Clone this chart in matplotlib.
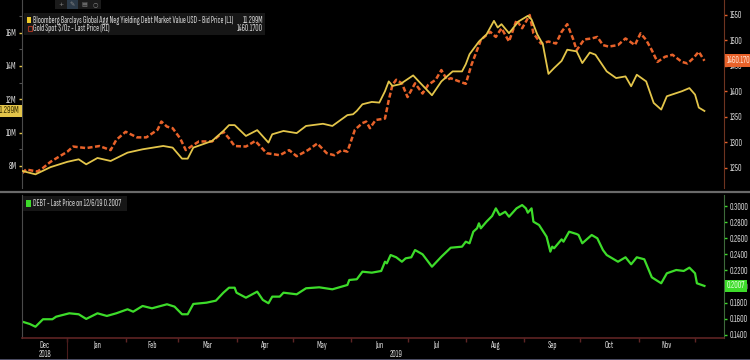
import matplotlib
matplotlib.use("Agg")
import matplotlib.pyplot as plt
import matplotlib.dates as mdates
import matplotlib.transforms as mtransforms
from matplotlib.patches import Rectangle
from matplotlib.lines import Line2D
import pandas as pd

plt.rcParams['font.family'] = ['Sofia Sans Extra Condensed', 'DejaVu Sans']

# Bloomberg Barclays Global Agg Neg Yielding Debt Market Value (USD tn, shown as "M")
debt_dates = ["2018-12-08", "2018-12-15", "2018-12-23", "2019-01-01", "2019-01-07", "2019-01-11",
              "2019-01-17", "2019-01-24", "2019-02-02", "2019-02-10", "2019-02-21", "2019-02-26",
              "2019-03-03", "2019-03-06", "2019-03-09", "2019-03-19", "2019-03-25", "2019-03-28",
              "2019-03-31", "2019-04-06", "2019-04-12", "2019-04-18", "2019-04-20", "2019-04-26",
              "2019-05-03", "2019-05-08", "2019-05-17", "2019-05-22", "2019-05-30", "2019-06-02",
              "2019-06-04", "2019-06-07", "2019-06-12", "2019-06-16", "2019-06-19", "2019-06-21",
              "2019-06-23", "2019-06-27", "2019-07-04", "2019-07-07", "2019-07-14", "2019-07-19",
              "2019-07-25", "2019-07-30", "2019-08-01", "2019-08-03", "2019-08-08", "2019-08-12",
              "2019-08-16", "2019-08-18", "2019-08-20", "2019-08-24", "2019-08-29", "2019-09-03",
              "2019-09-05", "2019-09-08", "2019-09-11", "2019-09-14", "2019-09-17", "2019-09-21",
              "2019-09-24", "2019-09-29", "2019-10-02", "2019-10-06", "2019-10-09", "2019-10-15",
              "2019-10-20", "2019-10-25", "2019-10-28", "2019-10-31", "2019-11-05", "2019-11-09",
              "2019-11-13", "2019-11-16", "2019-11-24", "2019-11-28", "2019-12-01", "2019-12-03",
              "2019-12-06"]
debt_vals = [7.70, 7.50, 7.93, 8.25, 8.40, 8.10,
             8.48, 8.30, 8.80, 9.00, 9.20, 9.10,
             8.44, 8.44, 9.10, 9.50, 10.10, 10.45,
             10.45, 9.80, 10.15, 9.40, 9.90, 10.10,
             9.97, 10.40, 10.53, 10.40, 11.05, 11.10,
             11.30, 11.70, 11.84, 11.80, 12.48, 13.07,
             12.80, 12.90, 13.43, 13.07, 12.24, 13.07,
             13.67, 13.67, 14.10, 14.70, 15.46, 15.88,
             16.70, 16.30, 16.50, 15.96, 16.66, 17.00,
             16.78, 15.90, 15.30, 13.52, 13.87, 14.30,
             14.97, 14.87, 14.17, 14.80, 14.67, 13.67,
             13.27, 13.37, 12.78, 13.47, 13.07, 11.78,
             11.38, 12.18, 12.48, 12.67, 12.28, 11.50,
             11.299]

# Gold Spot $/Oz
gold_dates = ["2018-12-08", "2018-12-10", "2018-12-16", "2018-12-19", "2018-12-23", "2018-12-27",
              "2019-01-01", "2019-01-04", "2019-01-11", "2019-01-18", "2019-01-24", "2019-01-27",
              "2019-02-01", "2019-02-07", "2019-02-12", "2019-02-18", "2019-02-20", "2019-02-23",
              "2019-02-26", "2019-03-02", "2019-03-05", "2019-03-09", "2019-03-12", "2019-03-19",
              "2019-03-25", "2019-03-28", "2019-03-31", "2019-04-06", "2019-04-11", "2019-04-17",
              "2019-04-24", "2019-04-29", "2019-05-03", "2019-05-09", "2019-05-14", "2019-05-19",
              "2019-05-23", "2019-05-27", "2019-05-30", "2019-06-03", "2019-06-07", "2019-06-09",
              "2019-06-11", "2019-06-14", "2019-06-19", "2019-06-21", "2019-06-23", "2019-06-25",
              "2019-06-28", "2019-07-01", "2019-07-05", "2019-07-09", "2019-07-12", "2019-07-16",
              "2019-07-19", "2019-07-22", "2019-07-24", "2019-07-29", "2019-08-01", "2019-08-04",
              "2019-08-07", "2019-08-09", "2019-08-14", "2019-08-17", "2019-08-20", "2019-08-24",
              "2019-08-28", "2019-08-31", "2019-09-04", "2019-09-06", "2019-09-10", "2019-09-14",
              "2019-09-18", "2019-09-21", "2019-09-24", "2019-09-27", "2019-09-29", "2019-10-03",
              "2019-10-07", "2019-10-10", "2019-10-13", "2019-10-16", "2019-10-21", "2019-10-25",
              "2019-10-30", "2019-11-02", "2019-11-05", "2019-11-08", "2019-11-11", "2019-11-15",
              "2019-11-19", "2019-11-24", "2019-11-27", "2019-11-30", "2019-12-03", "2019-12-06"]
gold_vals = [1240, 1247, 1243, 1250, 1262, 1271,
             1282, 1292, 1289, 1293, 1285, 1305,
             1321, 1310, 1310, 1325, 1341, 1331,
             1328, 1308, 1285, 1295, 1302, 1302,
             1321, 1308, 1293, 1292, 1303, 1279,
             1275, 1285, 1273, 1285, 1298, 1279,
             1275, 1285, 1282, 1325, 1338, 1341,
             1328, 1344, 1347, 1383, 1413, 1423,
             1416, 1389, 1416, 1396, 1413, 1423,
             1442, 1423, 1426, 1419, 1415, 1452,
             1481, 1501, 1517, 1507, 1524, 1498,
             1540, 1524, 1550, 1514, 1494, 1498,
             1494, 1517, 1532, 1504, 1481, 1502,
             1504, 1507, 1491, 1488, 1491, 1504,
             1491, 1514, 1501, 1481, 1458, 1468,
             1472, 1458, 1455, 1465, 1478, 1460.17]

# DEBT - Last Price
idx_dates = ["2018-12-08", "2018-12-12", "2018-12-15", "2018-12-19", "2018-12-24", "2018-12-26",
             "2019-01-02", "2019-01-07", "2019-01-11", "2019-01-17", "2019-01-22", "2019-01-27",
             "2019-02-02", "2019-02-05", "2019-02-10", "2019-02-15", "2019-02-23", "2019-02-27",
             "2019-03-03", "2019-03-06", "2019-03-09", "2019-03-16", "2019-03-21", "2019-03-25",
             "2019-03-28", "2019-03-31", "2019-04-01", "2019-04-06", "2019-04-12", "2019-04-15",
             "2019-04-18", "2019-04-20", "2019-04-24", "2019-04-26", "2019-05-03", "2019-05-08",
             "2019-05-15", "2019-05-22", "2019-05-30", "2019-05-31", "2019-06-04", "2019-06-07",
             "2019-06-12", "2019-06-17", "2019-06-19", "2019-06-20", "2019-06-22", "2019-06-25",
             "2019-06-28", "2019-06-30", "2019-07-03", "2019-07-05", "2019-07-09", "2019-07-14",
             "2019-07-19", "2019-07-24", "2019-07-30", "2019-08-01", "2019-08-03", "2019-08-05",
             "2019-08-07", "2019-08-08", "2019-08-09", "2019-08-12", "2019-08-15", "2019-08-17",
             "2019-08-19", "2019-08-22", "2019-08-24", "2019-08-28", "2019-08-31", "2019-09-02",
             "2019-09-03", "2019-09-05", "2019-09-06", "2019-09-09", "2019-09-13", "2019-09-15",
             "2019-09-16", "2019-09-17", "2019-09-21", "2019-09-22", "2019-09-25", "2019-09-29",
             "2019-09-30", "2019-10-02", "2019-10-07", "2019-10-10", "2019-10-13", "2019-10-15",
             "2019-10-21", "2019-10-25", "2019-10-28", "2019-10-31", "2019-11-04", "2019-11-08",
             "2019-11-13", "2019-11-16", "2019-11-21", "2019-11-25", "2019-11-28", "2019-12-01",
             "2019-12-02", "2019-12-06"]
idx_vals = [0.1563, 0.1534, 0.1500, 0.1593, 0.1593, 0.1625,
            0.1667, 0.1655, 0.1597, 0.1667, 0.1634, 0.1667,
            0.1717, 0.1687, 0.1758, 0.1729, 0.1779, 0.1750,
            0.1655, 0.1655, 0.1783, 0.1799, 0.1824, 0.1923,
            0.1985, 0.1985, 0.1923, 0.1861, 0.1936, 0.1833,
            0.1792, 0.1874, 0.1874, 0.1923, 0.1903, 0.1978,
            0.1990, 0.1965, 0.2019, 0.2081, 0.2090, 0.2184,
            0.2172, 0.2193, 0.2308, 0.2288, 0.2391, 0.2363,
            0.2308, 0.2350, 0.2363, 0.2453, 0.2400, 0.2246,
            0.2370, 0.2482, 0.2495, 0.2557, 0.2537, 0.2681,
            0.2723, 0.2785, 0.2723, 0.2805, 0.2876, 0.2971,
            0.2888, 0.2929, 0.2867, 0.2971, 0.3012, 0.2971,
            0.2917, 0.2971, 0.2805, 0.2764, 0.2619, 0.2433,
            0.2495, 0.2475, 0.2586, 0.2557, 0.2681, 0.2652,
            0.2640, 0.2537, 0.2640, 0.2599, 0.2453, 0.2391,
            0.2308, 0.2363, 0.2276, 0.2363, 0.2338, 0.2114,
            0.2040, 0.2164, 0.2205, 0.2193, 0.2234, 0.2164,
            0.2040, 0.2007]

left_ticks = [8, 10, 12, 14, 16]
right_ticks = [1250, 1300, 1350, 1400, 1450, 1500, 1550]
idx_ticks = [0.14, 0.16, 0.18, 0.20, 0.22, 0.24, 0.26, 0.28, 0.30]

YELLOW = '#e3c54a'
ORANGE = '#e8622a'
GREEN = '#3ddc2a'
TXT = '#d2d2d2'
FS = 6.9       # axis labels
FS_LEG = 6.5   # legend text

x_start = pd.Timestamp('2018-12-07 20:00')
x_end = pd.Timestamp('2019-12-16 10:00')

fig = plt.figure(figsize=(7.5, 3.6), dpi=100, facecolor='black')
W, H = 750.0, 360.0


def px_rect(x, y, w, h, **kw):
    # rectangle given in screen pixels, y measured from the top
    r = Rectangle((x / W, 1 - (y + h) / H), w / W, h / H, transform=fig.transFigure, **kw)
    fig.add_artist(r)


def px_text(x, y, s, **kw):
    fig.text(x / W, 1 - y / H, s, **kw)


ax1 = fig.add_axes([22 / W, 1 - 188 / H, 702 / W, 188 / H])
ax1r = ax1.twinx()
ax2 = fig.add_axes([22 / W, 1 - 338 / H, 702 / W, 143 / H])

for a in (ax1, ax1r, ax2):
    a.set_facecolor('black')
    a.set_xlim(x_start, x_end)
    for s in a.spines.values():
        s.set_visible(False)

d_debt = pd.to_datetime(debt_dates)
d_gold = pd.to_datetime(gold_dates)
d_idx = pd.to_datetime(idx_dates)

ax1r.plot(d_gold, gold_vals, color=ORANGE, lw=1.8, dashes=[2, 1], zorder=2)
ax1.plot(d_debt, debt_vals, color=YELLOW, lw=1.3, zorder=3)
ax1.set_zorder(ax1r.get_zorder() + 1)
ax1.patch.set_visible(False)
ax1r.patch.set_visible(True)
ax1r.patch.set_facecolor('black')
ax2.plot(d_idx, idx_vals, color=GREEN, lw=1.6)

# top panel axes
ax1.set_ylim(6.68, 17.95)
ax1r.set_ylim(1210.7, 1579.4)
ax1.spines['left'].set_visible(True)
ax1.spines['left'].set_color('#4a4a4a')
ax1r.spines['right'].set_visible(True)
ax1r.spines['right'].set_color('#6e3420')
ax1.set_xticks([])
ax1r.set_xticks([])
ax1.set_yticks(left_ticks)
ax1.set_yticklabels([f'{v}M' for v in left_ticks])
ax1.set_yticks([9, 11, 13, 15, 17], minor=True)
ax1.tick_params(axis='y', which='major', colors=YELLOW, labelcolor=TXT, labelsize=FS,
                length=2.5, width=1, pad=1.5)
ax1.tick_params(axis='y', which='minor', colors='#555555', length=2, width=0.8)
ax1r.set_yticks(right_ticks)
ax1r.set_yticklabels([str(v) for v in right_ticks])
ax1r.tick_params(axis='y', colors=ORANGE, labelcolor=TXT, labelsize=FS, length=2.5, width=1, pad=1.5)

# bottom panel axes
ax2.set_ylim(0.136, 0.3137)
ax2.spines['left'].set_visible(True)
ax2.spines['left'].set_color('#4a4a4a')
ax2.spines['right'].set_visible(True)
ax2.spines['right'].set_color('#3d6a3a')
ax2.spines['bottom'].set_visible(True)
ax2.spines['bottom'].set_color('#5e2424')
ax2.spines['bottom'].set_linewidth(1.2)
ax2.yaxis.tick_right()
ax2.set_yticks(idx_ticks)
ax2.set_yticklabels([f'{v:.4f}' for v in idx_ticks])
ax2.tick_params(axis='y', colors=GREEN, labelcolor=TXT, labelsize=FS, length=2.5, width=1, pad=1.5)
month_starts = pd.date_range('2019-01-01', '2019-12-01', freq='MS')
ax2.set_xticks(month_starts)
ax2.tick_params(axis='x', colors='#5e2424', length=3, width=1, labelbottom=False)

blend = mtransforms.blended_transform_factory(ax2.transData, ax2.transAxes)
months = pd.date_range('2018-12-01', '2019-11-01', freq='MS')
for m in months:
    lo = max(m, x_start)
    hi = min(m + pd.offsets.MonthBegin(1), x_end)
    c = lo + (hi - lo) / 2
    ax2.text(mdates.date2num(c.to_pydatetime()), -0.05, m.strftime('%b'), transform=blend,
             ha='center', va='center', color=TXT, fontsize=FS)
jan1 = pd.Timestamp('2019-01-01')
for lo, hi, yr in [(x_start, jan1, '2018'), (jan1, x_end, '2019')]:
    c = lo + (hi - lo) / 2
    ax2.text(mdates.date2num(c.to_pydatetime()), -0.118, yr, transform=blend,
             ha='center', va='center', color=TXT, fontsize=FS)
ax2.plot([jan1, jan1], [0, -0.16], transform=blend, color='#4a1c1c', lw=0.8, clip_on=False)

# value tags on the axes
ax1.annotate(f'{debt_vals[-1]:.3f}M', xy=(0, debt_vals[-1]), xycoords=('axes fraction', 'data'),
             xytext=(-1.5, 0), textcoords='offset points', ha='right', va='center',
             fontsize=FS, color='#3a3000', zorder=10,
             bbox=dict(boxstyle='square,pad=0.2', fc=YELLOW, ec='none'), annotation_clip=False)
ax1r.annotate(f'{gold_vals[-1]:.4f}', xy=(1, gold_vals[-1]), xycoords=('axes fraction', 'data'),
              xytext=(2, 0), textcoords='offset points', ha='left', va='center',
              fontsize=FS, color='#ffe0d0', zorder=10,
              bbox=dict(boxstyle='square,pad=0.2', fc=ORANGE, ec='none'), annotation_clip=False)
ax2.annotate(f'{idx_vals[-1]:.4f}', xy=(1, idx_vals[-1]), xycoords=('axes fraction', 'data'),
             xytext=(2, 0), textcoords='offset points', ha='left', va='center',
             fontsize=FS, color='#e0ffd8', zorder=10,
             bbox=dict(boxstyle='square,pad=0.2', fc=GREEN, ec='none'),
             annotation_clip=False)

# separator between panels and bottom border
fig.add_artist(Line2D([0, 1], [1 - 191.5 / H, 1 - 191.5 / H], transform=fig.transFigure,
                      color='#6a6a6a', lw=1.6))
fig.add_artist(Line2D([0, 1], [0.5 / H, 0.5 / H], transform=fig.transFigure,
                      color='#5c5c78', lw=1.2))

# toolbar icons
px_rect(55, 0, 46, 9, fc='#1b1b1b', ec='none')
px_rect(67, 0, 11, 9, fc='#2c3a48', ec='none')
for xx, sym in [(61, '+'), (72.5, '✎'), (84, '▤'), (95, '○')]:
    px_text(xx, 4.5, sym, ha='center', va='center', fontsize=4.5, color='#8a8a8a',
            family='DejaVu Sans')

# top legend
px_rect(24, 13, 241, 22, fc='#161616', ec='none')
px_rect(27, 17, 4.5, 6, fc='#f0cc2a', ec='none')
px_rect(27.5, 25.5, 4, 5.5, fc='none', ec='#a03322', lw=0.8)
px_text(33, 20.5, 'Bloomberg Barclays Global Agg Neg Yielding Debt Market Value USD - Bid Price (L1)',
        ha='left', va='center', fontsize=FS_LEG, color=TXT)
px_text(263, 20.5, f'{debt_vals[-1]:.3f}M', ha='right', va='center', fontsize=FS_LEG, color=TXT)
px_text(33, 28.5, 'Gold Spot $/Oz - Last Price (R1)', ha='left', va='center', fontsize=FS_LEG,
        color=TXT)
px_text(263, 28.5, f'{gold_vals[-1]:.4f}', ha='right', va='center', fontsize=FS_LEG, color=TXT)

# bottom legend
px_rect(23, 196, 104, 15, fc='#161616', ec='none')
px_rect(26, 200, 4.5, 6.5, fc=GREEN, ec='none')
px_text(33, 203.5, f'DEBT - Last Price on 12/6/19 {idx_vals[-1]:.4f}', ha='left', va='center',
        fontsize=FS_LEG, color=TXT)

fig.savefig('out.png', dpi=100, facecolor='black')
